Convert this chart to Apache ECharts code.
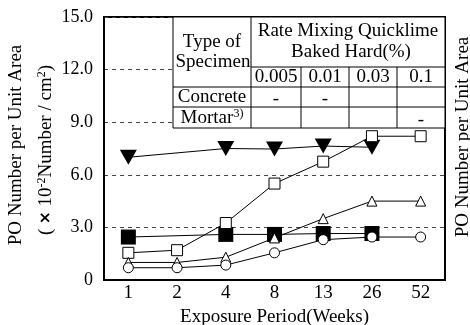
<!DOCTYPE html>
<html><head><meta charset="utf-8">
<script src="https://cdn.jsdelivr.net/npm/echarts@6/dist/echarts.min.js"></script>
<style>html,body{margin:0;padding:0;background:#fff}#c{width:470px;height:325px}</style>
</head><body><div id="c"></div>
<script>
var categories = ['1','2','4','8','13','26','52'];
var yTickLabels = ['0','3.0','6.0','9.0','12.0','15.0'];
var filledTriangle = [7.0, null, 7.5, 7.47, 7.64, 7.57, null];
var filledSquare   = [2.45, null, 2.6, 2.6, 2.65, 2.65, null];
var openSquare     = [1.55, 1.7, 3.25, 5.5, 6.75, 8.2, 8.2];
var openTriangle   = [1.0, 1.0, 1.3, 2.4, 3.5, 4.5, 4.5];
var openCircle     = [0.7, 0.7, 0.85, 1.55, 2.3, 2.45, 2.45];
var tableRateTitle = ['Rate Mixing Quicklime','Baked Hard(%)'];
var tableTypeTitle = ['Type of','Specimen'];
var tableRates = ['0.005','0.01','0.03','0.1'];
var tableRows = ['Concrete','Mortar'];
var concreteMarks = ['-','-','',''];
var mortarMarks = ['','','','-'];

var FONT = 'Liberation Serif';
var FS = 19;
var chart = echarts.init(document.getElementById('c'));

function mkSeries(name, data, symbol, size, filled, rotate) {
  return {
    name: name, type: 'line', data: data, connectNulls: true,
    symbol: symbol, symbolSize: size, symbolRotate: rotate || 0,
    showAllSymbol: true,
    lineStyle: {color: '#000', width: 1},
    itemStyle: filled ? {color: '#000', borderColor: '#000', borderWidth: 0}
                      : {color: '#fff', borderColor: '#000', borderWidth: 1},
    emphasis: {disabled: true}, animation: false
  };
}

var g = [];
var T = 17, L = 173, R = 445, B = 128, C1 = 251;
var rowY = [67, 87, 107];
var colX = [251, 301, 349, 397, 445];
g.push({type:'rect', shape:{x:L, y:T, width:R-L, height:B-T}, style:{fill:'#fff', stroke:'#000', lineWidth:1}, z:10});
function ln(x1,y1,x2,y2){ g.push({type:'line', shape:{x1:x1,y1:y1,x2:x2,y2:y2}, style:{stroke:'#000', lineWidth:1}, z:11}); }
ln(C1, T, C1, B);
ln(C1, rowY[0], R, rowY[0]);
ln(L, rowY[1], R, rowY[1]);
ln(L, rowY[2], R, rowY[2]);
for (var i = 1; i < 4; i++) ln(colX[i], rowY[0], colX[i], B);
function tx(x, y, s, extra) {
  var st = {text: s, x: x, y: y, fill: '#000', font: FS + 'px "' + FONT + '"', align: 'center', verticalAlign: 'middle'};
  if (extra) for (var k in extra) st[k] = extra[k];
  g.push({type:'text', style: st, z: 12});
}
tx(212, 42, tableTypeTitle[0]);
tx(213, 62, tableTypeTitle[1]);
tx(348, 31, tableRateTitle[0]);
tx(351, 52, tableRateTitle[1]);
for (var i = 0; i < 4; i++) {
  var cx = (colX[i] + colX[i+1]) / 2;
  tx(cx, 77, tableRates[i]);
  if (concreteMarks[i]) tx(cx, 99, concreteMarks[i]);
  if (mortarMarks[i]) tx(cx, 120, mortarMarks[i]);
}
tx(212, 97, tableRows[0]);
g.push({type:'text', z:12, style:{x:212, y:118, align:'center', verticalAlign:'middle',
  text:'{a|' + tableRows[1] + '}{s|3)}',
  rich:{a:{fontFamily:FONT, fontSize:FS, fill:'#000', color:'#000'}, s:{fontFamily:FONT, fontSize:12, color:'#000', fill:'#000', verticalAlign:'top', padding:[0,0,8,0]}}}});

// axis titles
g.push({type:'text', z:12, rotation:Math.PI/2, x:16, y:145, style:{x:0, y:0, align:'center', verticalAlign:'middle', text:'PO Number per Unit Area', font: FS + 'px "' + FONT + '"', fill:'#000'}});
g.push({type:'text', z:12, rotation:Math.PI/2, x:46, y:150, style:{x:0, y:0, align:'center', verticalAlign:'middle',
  text:'{a|( }{x|×}{a| 10}{s|-2}{a|Number / cm}{s|2}{a|)}',
  rich:{a:{fontFamily:FONT, fontSize:FS, color:'#000'}, x:{fontFamily:'DejaVu Sans', fontSize:15, fontWeight:'bold', color:'#000'}, s:{fontFamily:FONT, fontSize:12, color:'#000', verticalAlign:'top', padding:[0,0,8,0]}}}});
g.push({type:'text', z:12, rotation:Math.PI/2, x:463, y:137, style:{x:0, y:0, align:'center', verticalAlign:'middle', text:'PO Number per Unit Area', font: FS + 'px "' + FONT + '"', fill:'#000'}});

chart.setOption({
  animation: false,
  backgroundColor: '#fff',
  grid: {left:104, right:25, top:17, bottom:45, show:true, borderColor:'#000', borderWidth:2, backgroundColor:'transparent', outerBoundsMode:'none', containLabel:false},
  xAxis: {
    type:'category', data: categories, boundaryGap: true,
    name: 'Exposure Period(Weeks)', nameLocation:'middle', nameGap: 22,
    nameTextStyle: {fontFamily: FONT, fontSize: FS, color:'#000'},
    axisLine: {lineStyle:{color:'#000', width:2}}, axisTick:{show:false},
    axisLabel: {fontFamily: FONT, fontSize: FS, color:'#000', margin: 4}
  },
  yAxis: {
    type:'value', min:0, max:15, interval:3,
    axisLine: {show:true, lineStyle:{color:'#000', width:2}}, axisTick:{show:false},
    axisLabel: {fontFamily: FONT, fontSize: 18, color:'#000', margin: 11,
      formatter: function(v){ return yTickLabels[Math.round(v/3)]; }},
    splitLine: {show:true, lineStyle:{color:'#444', type:[4,4], width:1}}
  },
  series: [
    mkSeries('ft', filledTriangle, 'triangle', [17,15], true, 180),
    mkSeries('fs', filledSquare, 'rect', 15, true),
    mkSeries('os', openSquare, 'rect', 11, false),
    mkSeries('ot', openTriangle, 'triangle', [10,10], false),
    mkSeries('oc', openCircle, 'circle', 10, false)
  ],
  graphic: g
});
</script></body></html>
